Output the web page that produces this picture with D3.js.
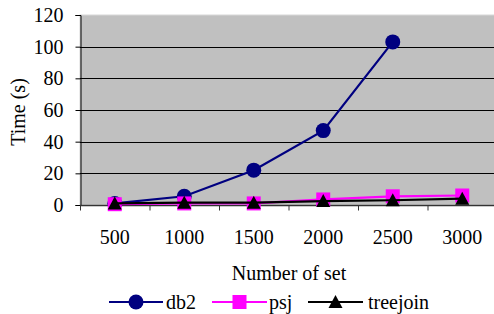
<!DOCTYPE html>
<html>
<head>
<meta charset="utf-8">
<script src="https://cdn.jsdelivr.net/npm/d3@7"></script>
<style>
  body { margin: 0; background: #fff; }
  svg { display: block; }
</style>
</head>
<body>
<svg id="chart"></svg>
<script>
// DATA
const CATEGORIES = ["500", "1000", "1500", "2000", "2500", "3000"]
const DB2 = [1, 5.5, 22, 47, 103, null]
const PSJ = [0.5, 1, 1, 3.5, 5.5, 6]
const TREEJOIN = [1, 1.5, 1.5, 2.5, 3, 4]
const Y_TICKS = [0, 20, 40, 60, 80, 100, 120]

// LAYOUT
const WIDTH = 494
const HEIGHT = 314
const PLOT_LEFT = 80
const PLOT_RIGHT = 497
const PLOT_TOP = 15
const PLOT_BOTTOM = 205
const FONT = "'Liberation Serif', 'Times New Roman', serif"

const svg = d3.select("#chart").attr("width", WIDTH).attr("height", HEIGHT)

const x = d3.scaleBand().domain(CATEGORIES).range([PLOT_LEFT, PLOT_RIGHT])
const y = d3.scaleLinear().domain([0, 120]).range([PLOT_BOTTOM, PLOT_TOP])
const cx = (d) => x(d) + x.bandwidth() / 2

// plot background
svg.append("rect")
  .attr("x", PLOT_LEFT)
  .attr("y", PLOT_TOP)
  .attr("width", PLOT_RIGHT - PLOT_LEFT)
  .attr("height", PLOT_BOTTOM - PLOT_TOP)
  .attr("fill", "#c0c0c0")
  .attr("stroke", "#d8d8d8")

// gridlines
svg.append("g")
  .selectAll("line")
  .data(Y_TICKS.filter((t) => t > 0 && t < 120))
  .join("line")
  .attr("x1", PLOT_LEFT)
  .attr("x2", PLOT_RIGHT)
  .attr("y1", (d) => Math.round(y(d)) + 0.5)
  .attr("y2", (d) => Math.round(y(d)) + 0.5)
  .attr("stroke", "#000")

// y axis
const yAxis = svg.append("g")
  .attr("transform", `translate(${PLOT_LEFT + 0.5},0)`)
  .call(d3.axisLeft(y).tickValues(Y_TICKS).tickSize(5).tickPadding(12))
yAxis.select(".domain").attr("stroke", "#000")
yAxis.selectAll("text").attr("font-family", FONT).attr("font-size", 20).attr("fill", "#000")

// x axis
const xAxis = svg.append("g")
  .attr("transform", `translate(0,${PLOT_BOTTOM + 0.5})`)
xAxis.append("line")
  .attr("x1", PLOT_LEFT)
  .attr("x2", PLOT_RIGHT)
  .attr("stroke", "#333")
  .attr("stroke-width", 1.5)
xAxis.selectAll(".tick")
  .data(CATEGORIES)
  .join("line")
  .attr("x1", (d) => x(d) + 0.5)
  .attr("x2", (d) => x(d) + 0.5)
  .attr("y1", 0)
  .attr("y2", 5)
  .attr("stroke", "#333")
xAxis.selectAll("text")
  .data(CATEGORIES)
  .join("text")
  .attr("x", (d) => cx(d))
  .attr("y", 38)
  .attr("text-anchor", "middle")
  .attr("font-family", FONT)
  .attr("font-size", 20)
  .text((d) => d)

// axis titles
svg.append("text")
  .attr("transform", "translate(25,112) rotate(-90)")
  .attr("text-anchor", "middle")
  .attr("font-family", FONT)
  .attr("font-size", 20)
  .text("Time (s)")

svg.append("text")
  .attr("x", 289)
  .attr("y", 280)
  .attr("text-anchor", "middle")
  .attr("font-family", FONT)
  .attr("font-size", 20)
  .text("Number of set")

// series
const series = [
  { name: "db2", values: DB2, color: "#000080", marker: "circle" },
  { name: "psj", values: PSJ, color: "#ff00ff", marker: "square" },
  { name: "treejoin", values: TREEJOIN, color: "#000000", marker: "triangle" },
]

function drawMarker(g, type, color) {
  if (type === "circle") {
    g.append("circle").attr("r", 7.5).attr("fill", color)
  } else if (type === "square") {
    g.append("rect").attr("x", -7).attr("y", -7).attr("width", 14).attr("height", 14).attr("fill", color)
  } else {
    g.append("path").attr("d", "M0,-7L7,6L-7,6Z").attr("fill", color)
  }
}

const line = d3.line()
  .defined((d) => d.v !== null)
  .x((d) => cx(d.c))
  .y((d) => y(d.v))

series.forEach((s) => {
  const pts = CATEGORIES.map((c, i) => ({ c, v: s.values[i] }))
  svg.append("path")
    .attr("d", line(pts))
    .attr("fill", "none")
    .attr("stroke", s.color)
    .attr("stroke-width", 2.2)
  svg.append("g")
    .selectAll("g")
    .data(pts.filter((d) => d.v !== null))
    .join("g")
    .attr("transform", (d) => `translate(${cx(d.c)},${y(d.v)})`)
    .each(function () { drawMarker(d3.select(this), s.marker, s.color) })
})

// legend
const LEGEND_Y = 302
const legendItems = [
  { s: series[0], x1: 109, x2: 163, tx: 166 },
  { s: series[1], x1: 212, x2: 267, tx: 269 },
  { s: series[2], x1: 308, x2: 363, tx: 368 },
]
legendItems.forEach((it) => {
  const g = svg.append("g")
  g.append("line")
    .attr("x1", it.x1).attr("x2", it.x2)
    .attr("y1", LEGEND_Y).attr("y2", LEGEND_Y)
    .attr("stroke", it.s.color).attr("stroke-width", 2.2)
  drawMarker(g.append("g").attr("transform", `translate(${(it.x1 + it.x2) / 2},${LEGEND_Y})`), it.s.marker, it.s.color)
  g.append("text")
    .attr("x", it.tx).attr("y", LEGEND_Y + 7)
    .attr("font-family", FONT).attr("font-size", 20)
    .text(it.s.name)
})
</script>
</body>
</html>
